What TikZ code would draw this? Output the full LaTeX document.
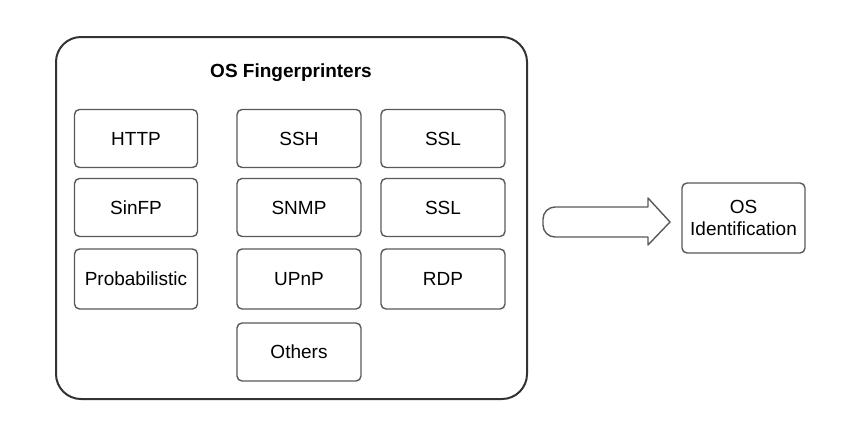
\documentclass[tikz,border=0pt]{standalone}
\usepackage{fontspec}
\setmainfont{Liberation Sans}
\begin{document}
\begin{tikzpicture}[x=1pt,y=-1pt,
  sbox/.style={draw=black!65,line width=1.4pt,rounded corners=5pt,font=\fontsize{19}{22}\selectfont,align=center,inner sep=0pt},
  outer/.style={draw=black!80,line width=2pt,rounded corners=25pt}]
\useasboundingbox (0,0) rectangle (864,437);
\draw[outer] (56,37) rectangle (527,399);
\node[font=\bfseries\fontsize{19}{22}\selectfont] (title) at (291,73) {OS Fingerprinters};
\newcommand\smbox[6]{\node[sbox,minimum width=#3pt,minimum height=#4pt] (#5) at (#1,#2) {#6};}
\smbox{136}{138.5}{123}{58}{http}{HTTP}
\smbox{136}{207.5}{123}{58}{sinfp}{SinFP}
\smbox{136}{279}{123}{60}{prob}{Probabilistic}
\smbox{299}{138.5}{124}{58}{ssh}{SSH}
\smbox{299}{207.5}{124}{58}{snmp}{SNMP}
\smbox{299}{279}{124}{60}{upnp}{UPnP}
\smbox{299}{352}{124}{58}{others}{Others}
\smbox{443}{138.5}{124}{58}{ssla}{SSL}
\smbox{443}{207.5}{124}{58}{sslb}{SSL}
\smbox{443}{279}{124}{60}{rdp}{RDP}
\smbox{743.5}{218}{123}{70}{osid}{OS\\Identification}
\draw[draw=black!65,line width=1.4pt,line join=round]
  (600,207) -- (648,207) -- (648,198) -- (670,222) -- (648,245) -- (648,237) -- (600,237)
  [rounded corners=12pt] -- (543,237) -- (543,207) -- (600,207);
\end{tikzpicture}
\end{document}
